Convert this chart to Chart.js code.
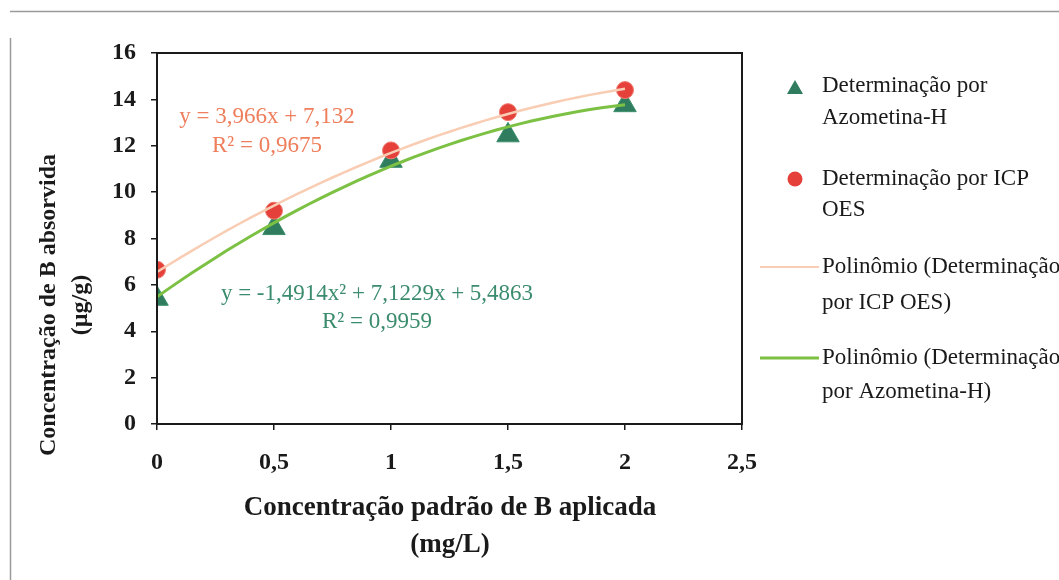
<!DOCTYPE html>
<html>
<head>
<meta charset="utf-8">
<script src="https://cdn.jsdelivr.net/npm/chart.js@4"></script>
<style>
    html, body { margin: 0; padding: 0; background: #fff; }
    #wrap { position: relative; width: 1059px; height: 580px; }
</style>
</head>
<body>
<div id="wrap"><canvas id="boroChart" width="1059" height="580"></canvas></div>
<script>
// Doses of B applied (mg/L) and B recovered by each method (µg/g)
const doses = [0, 0.5, 1, 1.5, 2];
const azometina = [5.4, 8.45, 11.35, 12.45, 13.75];
const icpOes = [6.65, 9.2, 11.8, 13.45, 14.4];

// Excel polynomial trendline for Azometina-H: c0 + c1*x + c2*x^2
const azoCoef = [5.4863, 7.1229, -1.4914];

const xTicks = [0, 0.5, 1, 1.5, 2, 2.5];
const yTicks = [0, 2, 4, 6, 8, 10, 12, 14, 16];

const legendLabels = [
    ["Determinação por", "Azometina-H"],
    ["Determinação por ICP", "OES"],
    ["Polinômio (Determinação", "por ICP OES)"],
    ["Polinômio (Determinação", "por Azometina-H)"]
];

const eqIcp = ["y = 3,966x + 7,132", "R² = 0,9675"];
const eqAzo = ["y = -1,4914x² + 7,1229x + 5,4863", "R² = 0,9959"];

const GREEN_MARK = "#2f7d5e";
const RED_MARK = "#e5413a";
const ORANGE_LINE = "#f9cdb3";
const GREEN_LINE = "#7cc144";
const INK = "#1a1a1a";
const SERIF = "'Liberation Serif', 'Times New Roman', serif";

// quadratic least squares fit, returns [c0, c1, c2]
function quadFit(xs, ys) {
    let s = [0, 0, 0, 0, 0], t = [0, 0, 0];
    xs.forEach((x, i) => {
        for (let k = 0; k < 5; k++) s[k] += Math.pow(x, k);
        for (let k = 0; k < 3; k++) t[k] += ys[i] * Math.pow(x, k);
    });
    const m = [[s[0], s[1], s[2], t[0]], [s[1], s[2], s[3], t[1]], [s[2], s[3], s[4], t[2]]];
    for (let i = 0; i < 3; i++) {
        for (let j = i + 1; j < 3; j++) {
            const f = m[j][i] / m[i][i];
            for (let k = i; k < 4; k++) m[j][k] -= f * m[i][k];
        }
    }
    const c = [0, 0, 0];
    for (let i = 2; i >= 0; i--) {
        let v = m[i][3];
        for (let k = i + 1; k < 3; k++) v -= m[i][k] * c[k];
        c[i] = v / m[i][i];
    }
    return c;
}

function trend(coef) {
    const pts = [];
    for (let i = 0; i <= 40; i++) {
        const x = i * 0.05;
        pts.push({ x: x, y: coef[0] + coef[1] * x + coef[2] * x * x });
    }
    return pts;
}

const icpCoef = quadFit(doses, icpOes);

// frame, plot box, equations, axis titles and the legend on the right
const decorations = {
    id: "decorations",
    afterDraw(chart) {
        const ctx = chart.ctx;
        const a = chart.chartArea;
        ctx.save();

        ctx.strokeStyle = "#9a9a9a";
        ctx.lineWidth = 1.5;
        ctx.beginPath();
        ctx.moveTo(10, 11.5); ctx.lineTo(1059, 11.5);
        ctx.moveTo(10.5, 38); ctx.lineTo(10.5, 580);
        ctx.stroke();

        ctx.strokeStyle = INK;
        ctx.lineWidth = 2;
        ctx.strokeRect(a.left, a.top, a.right - a.left, a.bottom - a.top);

        ctx.textAlign = "center";
        ctx.textBaseline = "middle";
        ctx.font = "23px " + SERIF;
        ctx.fillStyle = "#ee7e5c";
        ctx.fillText(eqIcp[0], 267, 117);
        ctx.fillText(eqIcp[1], 267, 146);
        ctx.fillStyle = "#3b8c6e";
        ctx.fillText(eqAzo[0], 377, 294);
        ctx.fillText(eqAzo[1], 377, 322);

        ctx.fillStyle = INK;
        ctx.font = "bold 27px " + SERIF;
        ctx.fillText("Concentração padrão de B aplicada", 450, 508);
        ctx.fillText("(mg/L)", 450, 545);

        ctx.save();
        ctx.translate(49, 305);
        ctx.rotate(-Math.PI / 2);
        ctx.font = "bold 24px " + SERIF;
        ctx.fillText("Concentração de B absorvida", 0, 0);
        ctx.fillText("(µg/g)", 0, 32);
        ctx.restore();

        // legend
        const rows = [
            { y: 86, gap: 32, kind: "tri" },
            { y: 179, gap: 31, kind: "dot" },
            { y: 267, gap: 36, kind: "lineO" },
            { y: 358, gap: 34, kind: "lineG" }
        ];
        ctx.textAlign = "left";
        ctx.font = "23px " + SERIF;
        rows.forEach((r, i) => {
            if (r.kind === "tri") {
                ctx.fillStyle = GREEN_MARK;
                ctx.beginPath();
                ctx.moveTo(795, r.y - 6); ctx.lineTo(803, r.y + 8); ctx.lineTo(787, r.y + 8);
                ctx.closePath(); ctx.fill();
            } else if (r.kind === "dot") {
                ctx.fillStyle = RED_MARK;
                ctx.beginPath(); ctx.arc(795, r.y, 7.5, 0, Math.PI * 2); ctx.fill();
            } else {
                ctx.strokeStyle = r.kind === "lineO" ? ORANGE_LINE : GREEN_LINE;
                ctx.lineWidth = r.kind === "lineO" ? 2 : 3;
                ctx.beginPath(); ctx.moveTo(760, r.y); ctx.lineTo(819, r.y); ctx.stroke();
            }
            ctx.fillStyle = INK;
            ctx.fillText(legendLabels[i][0], 822, r.y);
            ctx.fillText(legendLabels[i][1], 822, r.y + r.gap);
        });
        ctx.restore();
    }
};

const tickFont = { family: SERIF, size: 24, weight: "bold" };

new Chart(document.getElementById("boroChart"), {
    type: "scatter",
    data: {
        datasets: [
            {
                label: "Polinômio (Determinação por Azometina-H)",
                type: "line",
                data: trend(azoCoef),
                borderColor: GREEN_LINE,
                borderWidth: 3,
                pointRadius: 0,
                tension: 0,
                order: 1
            },
            {
                label: "Polinômio (Determinação por ICP OES)",
                type: "line",
                data: trend(icpCoef),
                borderColor: ORANGE_LINE,
                borderWidth: 2.5,
                pointRadius: 0,
                tension: 0,
                order: 2
            },
            {
                label: "Determinação por ICP OES",
                data: doses.map((x, i) => ({ x: x, y: icpOes[i] })),
                backgroundColor: RED_MARK,
                borderColor: "#f07a70",
                borderWidth: 1,
                pointStyle: "circle",
                pointRadius: 8.5,
                order: 3
            },
            {
                label: "Determinação por Azometina-H",
                data: doses.map((x, i) => ({ x: x, y: azometina[i] })),
                backgroundColor: GREEN_MARK,
                borderColor: "#3d8f6c",
                borderWidth: 1,
                pointStyle: "triangle",
                pointRadius: 13,
                order: 4
            }
        ]
    },
    options: {
        responsive: false,
        animation: false,
        events: [],
        layout: { padding: { top: 53, right: 317, bottom: 0, left: 0 } },
        plugins: {
            legend: { display: false },
            tooltip: { enabled: false }
        },
        scales: {
            x: {
                type: "linear",
                min: 0,
                max: 2.5,
                afterFit: scale => { scale.height = 156; },
                afterBuildTicks: scale => { scale.ticks = xTicks.map(v => ({ value: v })); },
                grid: { drawOnChartArea: false, drawTicks: true, tickLength: 6, color: INK, lineWidth: 1.5 },
                border: { display: true, color: INK, width: 2 },
                ticks: {
                    color: INK,
                    font: tickFont,
                    padding: 18,
                    maxRotation: 0,
                    callback: v => String(v).replace(".", ",")
                }
            },
            y: {
                min: 0,
                max: 16,
                afterFit: scale => { scale.width = 157; },
                afterBuildTicks: scale => { scale.ticks = yTicks.map(v => ({ value: v })); },
                grid: { drawOnChartArea: false, drawTicks: true, tickLength: 6, color: INK, lineWidth: 1.5 },
                border: { display: true, color: INK, width: 2 },
                ticks: {
                    color: INK,
                    font: tickFont,
                    padding: 15
                }
            }
        }
    },
    plugins: [decorations]
});
</script>
</body>
</html>
